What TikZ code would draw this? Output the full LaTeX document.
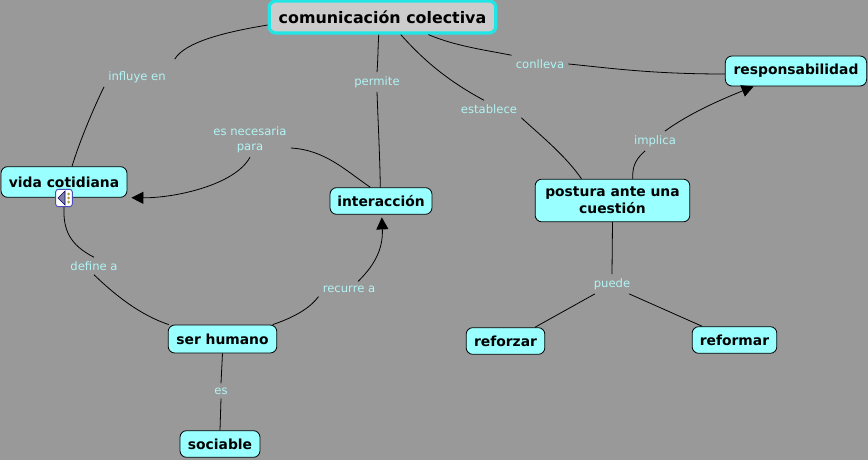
\documentclass[tikz,border=0pt]{standalone}
\usepackage{fontspec}
\setmainfont{DejaVu Sans}
\usepackage{xcolor}
\usetikzlibrary{arrows.meta,positioning,calc}
\definecolor{mapbg}{HTML}{999999}
\definecolor{boxfill}{HTML}{99FFFF}
\definecolor{linktext}{HTML}{B2F4F4}
\definecolor{rootline}{HTML}{22E6E6}
\tikzset{
  conceptbox/.style={draw=black, line width=0.6pt, fill=boxfill, rounded corners=5pt, inner sep=0pt, font=\bfseries\fontsize{10.4}{13}\selectfont, align=center},
  linklabel/.style={text=linktext, inner sep=3pt, font=\fontsize{8.7}{11}\selectfont, align=center},
  maplink/.style={draw=black, line width=0.6pt},
  maparrow/.style={maplink, -{Triangle[length=9pt,width=9pt]}}
}
\begin{document}
\begin{tikzpicture}[x=0.75pt,y=-0.75pt]
  \useasboundingbox (0,0) rectangle (868,460);
  \fill[mapbg] (0,0) rectangle (868,460);
  % concepts
  \node[conceptbox, draw=rootline, line width=2.4pt, fill=black!20, minimum width=170pt, minimum height=24pt, font=\bfseries\fontsize{11.9}{14}\selectfont] (comun) at (382.5,17) {comunicación colectiva};
  \node[conceptbox, minimum width=106pt, minimum height=22.5pt] (resp) at (796,71) {responsabilidad};
  \node[conceptbox, minimum width=94.5pt, minimum height=23pt] (vida) at (64,182) {vida cotidiana};
  \node[conceptbox, minimum width=76.5pt, minimum height=20pt] (inter) at (381,201) {interacción};
  \node[conceptbox, minimum width=116pt, minimum height=32pt] (postura) at (612.5,200.5) {postura ante una\\cuestión};
  \node[conceptbox, minimum width=81.5pt, minimum height=21pt] (humano) at (222.5,339) {ser humano};
  \node[conceptbox, minimum width=59pt, minimum height=20pt] (reforzar) at (505.5,341) {reforzar};
  \node[conceptbox, minimum width=63.5pt, minimum height=20pt] (reformar) at (734.5,340) {reformar};
  \node[conceptbox, minimum width=60pt, minimum height=20pt] (sociable) at (220,444) {sociable};
  % link labels
  \node[linklabel] (influye) at (137,77) {influye en};
  \node[linklabel] (permite) at (377,82) {permite};
  \node[linklabel] (conlleva) at (540,64) {conlleva};
  \node[linklabel] (establece) at (489,109) {establece};
  \node[linklabel] (necesaria) at (250,140) {es necesaria\\para};
  \node[linklabel] (implica) at (655,141) {implica};
  \node[linklabel] (define) at (94,266) {define a};
  \node[linklabel] (recurre) at (349,289) {recurre a};
  \node[linklabel] (puede) at (612,284) {puede};
  \node[linklabel] (es) at (221,391) {es};
  % sound icon
  \node[draw=blue!60!black!70, fill=white, rounded corners=2pt, line width=0.7pt, minimum width=12.5pt, minimum height=13pt, inner sep=0pt] (sound) at (64,198) {};
  \fill[blue!30!black!50, draw=blue!40!black, line width=0.4pt] ($(sound)+(-6,0)$) -- ($(sound)+(1,-7)$) -- ($(sound)+(1,7)$) -- cycle;
  \foreach \dy in {-4,0,4}
    \fill[yellow!60!black] ($(sound)+(4.5,\dy)$) circle (1.5);
  % links
  \draw[maplink, shorten >=7pt] (comun.184) .. controls (225,32) and (185,42) .. (influye.north east);
  \draw[maplink] (influye.south west) .. controls (95,105) and (80,140) .. (vida.63);
  \draw[maplink] (comun.-102) .. controls (378,45) and (378,60) .. (permite.north);
  \draw[maplink] (permite.south) .. controls (378,120) and (380,160) .. (inter.93);
  \draw[maplink] (comun.-44) .. controls (425,62) and (450,82) .. (establece.120);
  \draw[maplink] (establece.south east) .. controls (540,135) and (565,155) .. (postura.145);
  \draw[maplink] (comun.-21) .. controls (455,46) and (485,50) .. (conlleva.north west);
  \draw[maplink] (conlleva.east) .. controls (610,68) and (650,74) .. (resp.west |- 0,74);
  \draw[maplink] (inter.128) .. controls (345,170) and (325,150) .. (necesaria.east |- 0,148);
  \draw[maparrow, shorten >=3pt] (necesaria.south) .. controls (235,185) and (175,198) .. (vida.south east);
  \draw[maplink] (postura.47) .. controls (632,165) and (637,158) .. (implica.-135);
  \draw[maparrow] (implica.45) .. controls (690,113) and (720,100) .. (resp.200);
  \draw[maplink] (sound.south) .. controls (63,230) and (70,245) .. (define.north);
  \draw[maplink] (define.south) .. controls (115,295) and (140,315) .. (humano.165);
  \draw[maplink] (humano.16) .. controls (295,317) and (310,308) .. (recurre.south west);
  \draw[maparrow, shorten >=2pt] (recurre.40) .. controls (378,262) and (383,245) .. (inter.-87);
  \draw[maplink] (postura.south) -- (puede.north);
  \draw[maplink] (puede.210) -- (reforzar.25);
  \draw[maplink] (puede.-30) -- (reformar.157);
  \draw[maplink] (humano.south) -- (es.north);
  \draw[maplink] (es.south) -- (sociable.north);
\end{tikzpicture}
\end{document}
